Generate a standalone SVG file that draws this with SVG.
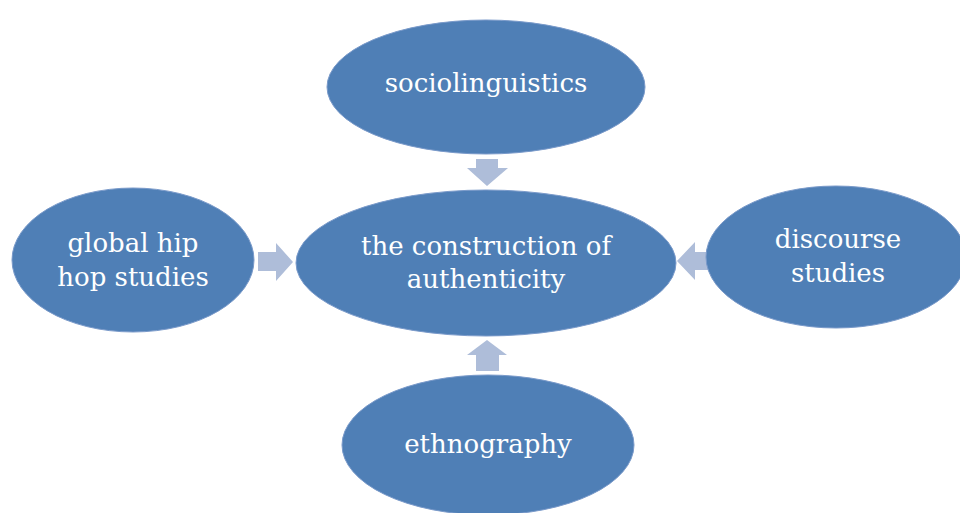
<svg xmlns="http://www.w3.org/2000/svg" width="960" height="513" viewBox="0 0 960 513">
  <style>
    .node { fill: #4F7FB6; stroke: #7A9ACA; stroke-width: 1; }
    .label { fill: #ffffff; font-family: "DejaVu Serif", "Liberation Serif", serif; font-size: 26px; text-anchor: middle; }
    .arrow { fill: #AEBDD9; }
  </style>
  <rect width="960" height="513" fill="#ffffff"/>

  <g id="connectors">
    <!-- down arrow from top node -->
    <polygon class="arrow" points="476,159 498,159 498,168 508,168 487,186 467,168 476,168"/>
    <!-- right arrow from left node -->
    <polygon class="arrow" points="258,252 276,252 276,243 293,262 276,281 276,271 258,271"/>
    <!-- left arrow from right node -->
    <polygon class="arrow" points="708,252 695,252 695,242 677,261 695,280 695,270 708,270"/>
    <!-- up arrow from bottom node -->
    <polygon class="arrow" points="476,371 499,371 499,355 507,355 487,340 467,355 476,355"/>
  </g>

  <g id="node-sociolinguistics">
    <ellipse class="node" cx="486" cy="87" rx="159" ry="67"/>
    <text class="label" x="486" y="92">sociolinguistics</text>
  </g>

  <g id="node-authenticity">
    <ellipse class="node" cx="486" cy="263" rx="190" ry="73"/>
    <text class="label" x="486" y="255">the construction of</text>
    <text class="label" x="486" y="288">authenticity</text>
  </g>

  <g id="node-hiphop">
    <ellipse class="node" cx="133" cy="260" rx="121" ry="72"/>
    <text class="label" x="133" y="252">global hip</text>
    <text class="label" x="133" y="286">hop studies</text>
  </g>

  <g id="node-discourse">
    <ellipse class="node" cx="836" cy="257" rx="130" ry="71"/>
    <text class="label" x="838" y="248">discourse</text>
    <text class="label" x="838" y="282">studies</text>
  </g>

  <g id="node-ethnography">
    <ellipse class="node" cx="488" cy="445" rx="146" ry="70"/>
    <text class="label" x="488" y="453">ethnography</text>
  </g>
</svg>
